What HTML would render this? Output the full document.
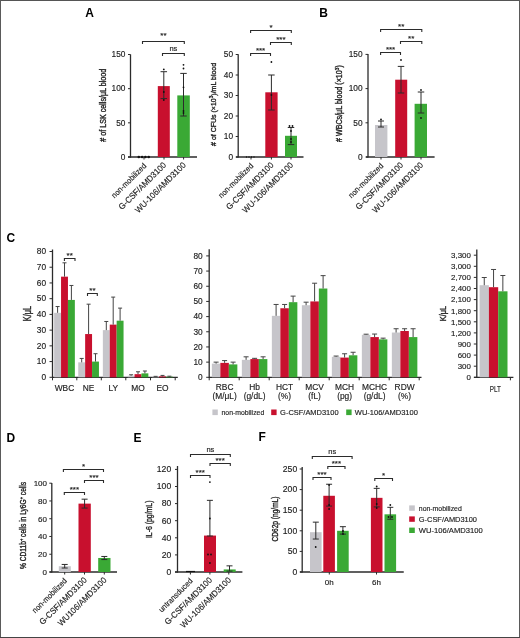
<!DOCTYPE html>
<html><head><meta charset="utf-8"><style>
html,body{margin:0;padding:0;background:#fff;}
body{width:520px;height:638px;overflow:hidden;}
svg{display:block;filter:blur(0.4px);font-family:"Liberation Sans", sans-serif;}
</style></head><body>
<svg width="520" height="638" viewBox="0 0 520 638">
<rect width="520" height="638" fill="#fff"/>
<rect x="0" y="0" width="520" height="1" fill="#555"/>
<rect x="0" y="0" width="1" height="638" fill="#5a5a5a"/>
<rect x="519" y="0" width="1" height="638" fill="#5a5a5a"/>
<rect x="0" y="637" width="520" height="1" fill="#444"/>
<text x="85.2" y="16.5" font-size="12" text-anchor="start" fill="#000" font-weight="bold">A</text>
<line x1="130.5" y1="54.4" x2="130.5" y2="157.6" stroke="#2b2b2b" stroke-width="1.3"/>
<line x1="128.0" y1="157.0" x2="130.5" y2="157.0" stroke="#2b2b2b" stroke-width="1"/>
<text x="125.4" y="159.8" font-size="8.3" text-anchor="end" fill="#222" stroke="#222" stroke-width="0.15">0</text>
<line x1="128.0" y1="122.83500000000001" x2="130.5" y2="122.83500000000001" stroke="#2b2b2b" stroke-width="1"/>
<text x="125.4" y="125.635" font-size="8.3" text-anchor="end" fill="#222" stroke="#222" stroke-width="0.15">50</text>
<line x1="128.0" y1="88.67" x2="130.5" y2="88.67" stroke="#2b2b2b" stroke-width="1"/>
<text x="125.4" y="91.47" font-size="8.3" text-anchor="end" fill="#222" stroke="#222" stroke-width="0.15">100</text>
<line x1="128.0" y1="54.504999999999995" x2="130.5" y2="54.504999999999995" stroke="#2b2b2b" stroke-width="1"/>
<text x="125.4" y="57.30499999999999" font-size="8.3" text-anchor="end" fill="#222" stroke="#222" stroke-width="0.15">150</text>
<line x1="128" y1="157" x2="197" y2="157" stroke="#2b2b2b" stroke-width="1.3"/>
<line x1="144" y1="157" x2="144" y2="159.5" stroke="#2b2b2b" stroke-width="1"/>
<line x1="164" y1="157" x2="164" y2="159.5" stroke="#2b2b2b" stroke-width="1"/>
<line x1="183.6" y1="157" x2="183.6" y2="159.5" stroke="#2b2b2b" stroke-width="1"/>
<rect x="157.8" y="86.1" width="12" height="70.9" fill="#c8102e"/>
<rect x="177.3" y="95.4" width="12.5" height="61.599999999999994" fill="#3aa935"/>
<line x1="163.8" y1="71.7" x2="163.8" y2="98.6" stroke="#2b2b2b" stroke-width="1"/>
<line x1="160.55" y1="71.7" x2="167.05" y2="71.7" stroke="#2b2b2b" stroke-width="1"/>
<line x1="160.55" y1="98.6" x2="167.05" y2="98.6" stroke="#2b2b2b" stroke-width="1"/>
<line x1="183.5" y1="73.4" x2="183.5" y2="116" stroke="#2b2b2b" stroke-width="1"/>
<line x1="180.25" y1="73.4" x2="186.75" y2="73.4" stroke="#2b2b2b" stroke-width="1"/>
<line x1="180.25" y1="116" x2="186.75" y2="116" stroke="#2b2b2b" stroke-width="1"/>
<circle cx="138.8" cy="157" r="1.3" fill="#111"/>
<circle cx="142.1" cy="157" r="1.3" fill="#111"/>
<circle cx="145.4" cy="157" r="1.3" fill="#111"/>
<circle cx="148.7" cy="157" r="1.3" fill="#111"/>
<circle cx="163.8" cy="69.4" r="0.9" fill="#111"/>
<circle cx="163.8" cy="92" r="0.9" fill="#111"/>
<circle cx="163.8" cy="100" r="0.9" fill="#111"/>
<circle cx="183.5" cy="64.8" r="0.9" fill="#111"/>
<circle cx="183.5" cy="68.5" r="0.9" fill="#111"/>
<circle cx="183.5" cy="87.3" r="0.9" fill="#111"/>
<circle cx="183.5" cy="111" r="0.9" fill="#111"/>
<circle cx="183.5" cy="113" r="0.9" fill="#111"/>
<polyline points="142.5,44.0 142.5,41.5 184.3,41.5 184.3,44.0" fill="none" stroke="#2b2b2b" stroke-width="1.1"/>
<text x="163.4" y="38.3" font-size="8" text-anchor="middle" fill="#222" stroke="#222" stroke-width="0.15">**</text>
<polyline points="162.5,56.0 162.5,53.5 184.3,53.5 184.3,56.0" fill="none" stroke="#2b2b2b" stroke-width="1.1"/>
<text x="173.4" y="50.8" font-size="7.5" text-anchor="middle" fill="#222" stroke="#222" stroke-width="0.15">ns</text>
<text x="106.3" y="105.2" font-size="8.2" text-anchor="middle" fill="#222" stroke="#222" stroke-width="0.35" textLength="73" lengthAdjust="spacingAndGlyphs" transform="rotate(-90 106.3 105.2)"># of LSK cells/μL blood</text>
<text x="146.8" y="166.4" font-size="7.9" text-anchor="end" fill="#222" stroke="#222" stroke-width="0.15" textLength="45.5" lengthAdjust="spacingAndGlyphs" transform="rotate(-45 146.8 166.4)">non-mobilized</text>
<text x="166.8" y="165.6" font-size="8.5" text-anchor="end" fill="#222" stroke="#222" stroke-width="0.15" textLength="63.2" lengthAdjust="spacingAndGlyphs" transform="rotate(-45 166.8 165.6)">G-CSF/AMD3100</text>
<text x="186.4" y="165.6" font-size="8.5" text-anchor="end" fill="#222" stroke="#222" stroke-width="0.15" textLength="67.8" lengthAdjust="spacingAndGlyphs" transform="rotate(-45 186.4 165.6)">WU-106/AMD3100</text>
<line x1="238.2" y1="54.3" x2="238.2" y2="157.6" stroke="#2b2b2b" stroke-width="1.3"/>
<line x1="235.7" y1="157.0" x2="238.2" y2="157.0" stroke="#2b2b2b" stroke-width="1"/>
<text x="233" y="159.8" font-size="8.3" text-anchor="end" fill="#222" stroke="#222" stroke-width="0.15">0</text>
<line x1="235.7" y1="136.5" x2="238.2" y2="136.5" stroke="#2b2b2b" stroke-width="1"/>
<text x="233" y="139.3" font-size="8.3" text-anchor="end" fill="#222" stroke="#222" stroke-width="0.15">10</text>
<line x1="235.7" y1="116.0" x2="238.2" y2="116.0" stroke="#2b2b2b" stroke-width="1"/>
<text x="233" y="118.8" font-size="8.3" text-anchor="end" fill="#222" stroke="#222" stroke-width="0.15">20</text>
<line x1="235.7" y1="95.5" x2="238.2" y2="95.5" stroke="#2b2b2b" stroke-width="1"/>
<text x="233" y="98.3" font-size="8.3" text-anchor="end" fill="#222" stroke="#222" stroke-width="0.15">30</text>
<line x1="235.7" y1="75.0" x2="238.2" y2="75.0" stroke="#2b2b2b" stroke-width="1"/>
<text x="233" y="77.8" font-size="8.3" text-anchor="end" fill="#222" stroke="#222" stroke-width="0.15">40</text>
<line x1="235.7" y1="54.500000000000014" x2="238.2" y2="54.500000000000014" stroke="#2b2b2b" stroke-width="1"/>
<text x="233" y="57.30000000000001" font-size="8.3" text-anchor="end" fill="#222" stroke="#222" stroke-width="0.15">50</text>
<line x1="236" y1="157" x2="303.5" y2="157" stroke="#2b2b2b" stroke-width="1.3"/>
<line x1="251" y1="157" x2="251" y2="159.5" stroke="#2b2b2b" stroke-width="1"/>
<line x1="271.4" y1="157" x2="271.4" y2="159.5" stroke="#2b2b2b" stroke-width="1"/>
<line x1="291" y1="157" x2="291" y2="159.5" stroke="#2b2b2b" stroke-width="1"/>
<rect x="265.3" y="92.3" width="12.3" height="64.7" fill="#c8102e"/>
<rect x="285" y="135.8" width="12" height="21.19999999999999" fill="#3aa935"/>
<line x1="271.4" y1="75" x2="271.4" y2="110" stroke="#2b2b2b" stroke-width="1"/>
<line x1="268.15" y1="75" x2="274.65" y2="75" stroke="#2b2b2b" stroke-width="1"/>
<line x1="268.15" y1="110" x2="274.65" y2="110" stroke="#2b2b2b" stroke-width="1"/>
<line x1="291" y1="127.5" x2="291" y2="144.6" stroke="#2b2b2b" stroke-width="1"/>
<line x1="287.75" y1="127.5" x2="294.25" y2="127.5" stroke="#2b2b2b" stroke-width="1"/>
<line x1="287.75" y1="144.6" x2="294.25" y2="144.6" stroke="#2b2b2b" stroke-width="1"/>
<circle cx="271.4" cy="62" r="0.9" fill="#111"/>
<circle cx="271.4" cy="95" r="0.9" fill="#111"/>
<circle cx="246.5" cy="157" r="0.7" fill="#111"/>
<circle cx="249" cy="157" r="0.7" fill="#111"/>
<circle cx="251.5" cy="157" r="0.7" fill="#111"/>
<circle cx="254" cy="157" r="0.7" fill="#111"/>
<circle cx="289.5" cy="126" r="0.9" fill="#111"/>
<circle cx="292.5" cy="126" r="0.9" fill="#111"/>
<circle cx="291" cy="131" r="0.9" fill="#111"/>
<circle cx="291" cy="139" r="0.9" fill="#111"/>
<circle cx="291" cy="142" r="0.9" fill="#111"/>
<polyline points="250.6,33.0 250.6,30.5 291.3,30.5 291.3,33.0" fill="none" stroke="#2b2b2b" stroke-width="1.1"/>
<text x="270.95" y="29.8" font-size="8" text-anchor="middle" fill="#222" stroke="#222" stroke-width="0.15">*</text>
<polyline points="270.5,45.0 270.5,42.5 291.3,42.5 291.3,45.0" fill="none" stroke="#2b2b2b" stroke-width="1.1"/>
<text x="280.9" y="41.8" font-size="8" text-anchor="middle" fill="#222" stroke="#222" stroke-width="0.15">***</text>
<polyline points="250.6,56.0 250.6,53.5 270.5,53.5 270.5,56.0" fill="none" stroke="#2b2b2b" stroke-width="1.1"/>
<text x="260.55" y="52.8" font-size="8" text-anchor="middle" fill="#222" stroke="#222" stroke-width="0.15">***</text>
<text x="216.3" y="104.4" font-size="8" text-anchor="middle" fill="#222" stroke="#222" stroke-width="0.35" textLength="83" lengthAdjust="spacingAndGlyphs" transform="rotate(-90 216.3 104.4)"># of CFUs (×10<tspan font-size="5.5" dy="-3">3</tspan><tspan dy="3">)/mL blood</tspan></text>
<text x="253.8" y="166.4" font-size="7.9" text-anchor="end" fill="#222" stroke="#222" stroke-width="0.15" textLength="45.5" lengthAdjust="spacingAndGlyphs" transform="rotate(-45 253.8 166.4)">non-mobilized</text>
<text x="274.2" y="165.6" font-size="8.5" text-anchor="end" fill="#222" stroke="#222" stroke-width="0.15" textLength="63.2" lengthAdjust="spacingAndGlyphs" transform="rotate(-45 274.2 165.6)">G-CSF/AMD3100</text>
<text x="293.8" y="165.6" font-size="8.5" text-anchor="end" fill="#222" stroke="#222" stroke-width="0.15" textLength="67.8" lengthAdjust="spacingAndGlyphs" transform="rotate(-45 293.8 165.6)">WU-106/AMD3100</text>
<text x="319.3" y="16.7" font-size="12" text-anchor="start" fill="#000" font-weight="bold">B</text>
<line x1="368" y1="54.1" x2="368" y2="157.6" stroke="#2b2b2b" stroke-width="1.3"/>
<line x1="365.5" y1="157.0" x2="368" y2="157.0" stroke="#2b2b2b" stroke-width="1"/>
<text x="362.6" y="159.8" font-size="8.3" text-anchor="end" fill="#222" stroke="#222" stroke-width="0.15">0</text>
<line x1="365.5" y1="122.8" x2="368" y2="122.8" stroke="#2b2b2b" stroke-width="1"/>
<text x="362.6" y="125.6" font-size="8.3" text-anchor="end" fill="#222" stroke="#222" stroke-width="0.15">50</text>
<line x1="365.5" y1="88.6" x2="368" y2="88.6" stroke="#2b2b2b" stroke-width="1"/>
<text x="362.6" y="91.39999999999999" font-size="8.3" text-anchor="end" fill="#222" stroke="#222" stroke-width="0.15">100</text>
<line x1="365.5" y1="54.39999999999999" x2="368" y2="54.39999999999999" stroke="#2b2b2b" stroke-width="1"/>
<text x="362.6" y="57.19999999999999" font-size="8.3" text-anchor="end" fill="#222" stroke="#222" stroke-width="0.15">150</text>
<line x1="366" y1="157" x2="434.6" y2="157" stroke="#2b2b2b" stroke-width="1.3"/>
<line x1="381" y1="157" x2="381" y2="159.5" stroke="#2b2b2b" stroke-width="1"/>
<line x1="401" y1="157" x2="401" y2="159.5" stroke="#2b2b2b" stroke-width="1"/>
<line x1="421" y1="157" x2="421" y2="159.5" stroke="#2b2b2b" stroke-width="1"/>
<rect x="375" y="125" width="12.4" height="32" fill="#c6c5ca"/>
<rect x="395.2" y="79.7" width="12" height="77.3" fill="#c8102e"/>
<rect x="414.6" y="103.8" width="12.4" height="53.2" fill="#3aa935"/>
<line x1="381" y1="121" x2="381" y2="127" stroke="#2b2b2b" stroke-width="1"/>
<line x1="378.0" y1="121" x2="384.0" y2="121" stroke="#2b2b2b" stroke-width="1"/>
<line x1="378.0" y1="127" x2="384.0" y2="127" stroke="#2b2b2b" stroke-width="1"/>
<line x1="401" y1="66.4" x2="401" y2="93" stroke="#2b2b2b" stroke-width="1"/>
<line x1="397.75" y1="66.4" x2="404.25" y2="66.4" stroke="#2b2b2b" stroke-width="1"/>
<line x1="397.75" y1="93" x2="404.25" y2="93" stroke="#2b2b2b" stroke-width="1"/>
<line x1="421" y1="92" x2="421" y2="113" stroke="#2b2b2b" stroke-width="1"/>
<line x1="417.75" y1="92" x2="424.25" y2="92" stroke="#2b2b2b" stroke-width="1"/>
<line x1="417.75" y1="113" x2="424.25" y2="113" stroke="#2b2b2b" stroke-width="1"/>
<circle cx="381" cy="119.5" r="0.9" fill="#111"/>
<circle cx="401" cy="60" r="0.9" fill="#111"/>
<circle cx="421" cy="90" r="0.9" fill="#111"/>
<circle cx="421" cy="118" r="0.9" fill="#111"/>
<polyline points="380.6,32.0 380.6,29.5 421.8,29.5 421.8,32.0" fill="none" stroke="#2b2b2b" stroke-width="1.1"/>
<text x="401.20000000000005" y="28.8" font-size="8" text-anchor="middle" fill="#222" stroke="#222" stroke-width="0.15">**</text>
<polyline points="400.5,44.0 400.5,41.5 421.8,41.5 421.8,44.0" fill="none" stroke="#2b2b2b" stroke-width="1.1"/>
<text x="411.15" y="40.8" font-size="8" text-anchor="middle" fill="#222" stroke="#222" stroke-width="0.15">**</text>
<polyline points="380.6,55.0 380.6,52.5 400.5,52.5 400.5,55.0" fill="none" stroke="#2b2b2b" stroke-width="1.1"/>
<text x="390.55" y="51.8" font-size="8" text-anchor="middle" fill="#222" stroke="#222" stroke-width="0.15">***</text>
<text x="342.2" y="103.6" font-size="8.3" text-anchor="middle" fill="#222" stroke="#222" stroke-width="0.35" textLength="76.8" lengthAdjust="spacingAndGlyphs" transform="rotate(-90 342.2 103.6)"># WBCs/μL blood (×10<tspan font-size="5.5" dy="-3">3</tspan><tspan dy="3">)</tspan></text>
<text x="383.8" y="166.4" font-size="7.9" text-anchor="end" fill="#222" stroke="#222" stroke-width="0.15" textLength="45.5" lengthAdjust="spacingAndGlyphs" transform="rotate(-45 383.8 166.4)">non-mobilized</text>
<text x="403.8" y="165.6" font-size="8.5" text-anchor="end" fill="#222" stroke="#222" stroke-width="0.15" textLength="63.2" lengthAdjust="spacingAndGlyphs" transform="rotate(-45 403.8 165.6)">G-CSF/AMD3100</text>
<text x="423.8" y="165.6" font-size="8.5" text-anchor="end" fill="#222" stroke="#222" stroke-width="0.15" textLength="67.8" lengthAdjust="spacingAndGlyphs" transform="rotate(-45 423.8 165.6)">WU-106/AMD3100</text>
<text x="6.4" y="241.8" font-size="12" text-anchor="start" fill="#000" font-weight="bold">C</text>
<line x1="52.5" y1="249.5" x2="52.5" y2="377.90000000000003" stroke="#2b2b2b" stroke-width="1.3"/>
<line x1="49.5" y1="377.3" x2="52.5" y2="377.3" stroke="#2b2b2b" stroke-width="1"/>
<text x="46" y="380.1" font-size="8.3" text-anchor="end" fill="#222" stroke="#222" stroke-width="0.15">0</text>
<line x1="49.5" y1="361.575" x2="52.5" y2="361.575" stroke="#2b2b2b" stroke-width="1"/>
<text x="46" y="364.375" font-size="8.3" text-anchor="end" fill="#222" stroke="#222" stroke-width="0.15">10</text>
<line x1="49.5" y1="345.85" x2="52.5" y2="345.85" stroke="#2b2b2b" stroke-width="1"/>
<text x="46" y="348.65000000000003" font-size="8.3" text-anchor="end" fill="#222" stroke="#222" stroke-width="0.15">20</text>
<line x1="49.5" y1="330.125" x2="52.5" y2="330.125" stroke="#2b2b2b" stroke-width="1"/>
<text x="46" y="332.925" font-size="8.3" text-anchor="end" fill="#222" stroke="#222" stroke-width="0.15">30</text>
<line x1="49.5" y1="314.40000000000003" x2="52.5" y2="314.40000000000003" stroke="#2b2b2b" stroke-width="1"/>
<text x="46" y="317.20000000000005" font-size="8.3" text-anchor="end" fill="#222" stroke="#222" stroke-width="0.15">40</text>
<line x1="49.5" y1="298.675" x2="52.5" y2="298.675" stroke="#2b2b2b" stroke-width="1"/>
<text x="46" y="301.475" font-size="8.3" text-anchor="end" fill="#222" stroke="#222" stroke-width="0.15">50</text>
<line x1="49.5" y1="282.95000000000005" x2="52.5" y2="282.95000000000005" stroke="#2b2b2b" stroke-width="1"/>
<text x="46" y="285.75000000000006" font-size="8.3" text-anchor="end" fill="#222" stroke="#222" stroke-width="0.15">60</text>
<line x1="49.5" y1="267.225" x2="52.5" y2="267.225" stroke="#2b2b2b" stroke-width="1"/>
<text x="46" y="270.02500000000003" font-size="8.3" text-anchor="end" fill="#222" stroke="#222" stroke-width="0.15">70</text>
<line x1="49.5" y1="251.5" x2="52.5" y2="251.5" stroke="#2b2b2b" stroke-width="1"/>
<text x="46" y="254.3" font-size="8.3" text-anchor="end" fill="#222" stroke="#222" stroke-width="0.15">80</text>
<line x1="52.5" y1="377.3" x2="177.8" y2="377.3" stroke="#2b2b2b" stroke-width="1.3"/>
<line x1="52.5" y1="377.3" x2="52.5" y2="380.3" stroke="#2b2b2b" stroke-width="1"/>
<line x1="76.8" y1="377.3" x2="76.8" y2="380.3" stroke="#2b2b2b" stroke-width="1"/>
<line x1="101.3" y1="377.3" x2="101.3" y2="380.3" stroke="#2b2b2b" stroke-width="1"/>
<line x1="125.8" y1="377.3" x2="125.8" y2="380.3" stroke="#2b2b2b" stroke-width="1"/>
<line x1="150.5" y1="377.3" x2="150.5" y2="380.3" stroke="#2b2b2b" stroke-width="1"/>
<line x1="175.2" y1="377.3" x2="175.2" y2="380.3" stroke="#2b2b2b" stroke-width="1"/>
<rect x="54.15" y="312.8275" width="6.9" height="64.4725" fill="#c6c5ca"/>
<rect x="61.05" y="276.66" width="6.9" height="100.64" fill="#c8102e"/>
<rect x="67.95" y="299.933" width="6.9" height="77.367" fill="#3aa935"/>
<line x1="57.6" y1="312.8275" x2="57.6" y2="306.5375" stroke="#444" stroke-width="1"/>
<line x1="55.6" y1="306.5375" x2="59.6" y2="306.5375" stroke="#444" stroke-width="1"/>
<line x1="64.5" y1="276.66" x2="64.5" y2="262.822" stroke="#444" stroke-width="1"/>
<line x1="62.5" y1="262.822" x2="66.5" y2="262.822" stroke="#444" stroke-width="1"/>
<line x1="71.4" y1="299.933" x2="71.4" y2="285.466" stroke="#444" stroke-width="1"/>
<line x1="69.4" y1="285.466" x2="73.4" y2="285.466" stroke="#444" stroke-width="1"/>
<text x="64.5" y="390.7" font-size="8.4" text-anchor="middle" fill="#222" stroke="#222" stroke-width="0.15">WBC</text>
<rect x="78.25" y="362.36125" width="6.9" height="14.93875" fill="#c6c5ca"/>
<rect x="85.15" y="334.05625000000003" width="6.9" height="43.24375" fill="#c8102e"/>
<rect x="92.05" y="361.575" width="6.9" height="15.725" fill="#3aa935"/>
<line x1="81.7" y1="362.36125" x2="81.7" y2="358.43" stroke="#444" stroke-width="1"/>
<line x1="79.7" y1="358.43" x2="83.7" y2="358.43" stroke="#444" stroke-width="1"/>
<line x1="88.60000000000001" y1="334.05625000000003" x2="88.60000000000001" y2="304.17875000000004" stroke="#444" stroke-width="1"/>
<line x1="86.60000000000001" y1="304.17875000000004" x2="90.60000000000001" y2="304.17875000000004" stroke="#444" stroke-width="1"/>
<line x1="95.5" y1="361.575" x2="95.5" y2="353.71250000000003" stroke="#444" stroke-width="1"/>
<line x1="93.5" y1="353.71250000000003" x2="97.5" y2="353.71250000000003" stroke="#444" stroke-width="1"/>
<text x="88.6" y="390.7" font-size="8.4" text-anchor="middle" fill="#222" stroke="#222" stroke-width="0.15">NE</text>
<rect x="102.85" y="330.125" width="6.9" height="47.175" fill="#c6c5ca"/>
<rect x="109.75" y="324.62125000000003" width="6.9" height="52.67875" fill="#c8102e"/>
<rect x="116.64999999999999" y="320.69" width="6.9" height="56.61" fill="#3aa935"/>
<line x1="106.3" y1="330.125" x2="106.3" y2="321.47625" stroke="#444" stroke-width="1"/>
<line x1="104.3" y1="321.47625" x2="108.3" y2="321.47625" stroke="#444" stroke-width="1"/>
<line x1="113.2" y1="324.62125000000003" x2="113.2" y2="297.1025" stroke="#444" stroke-width="1"/>
<line x1="111.2" y1="297.1025" x2="115.2" y2="297.1025" stroke="#444" stroke-width="1"/>
<line x1="120.1" y1="320.69" x2="120.1" y2="308.11" stroke="#444" stroke-width="1"/>
<line x1="118.1" y1="308.11" x2="122.1" y2="308.11" stroke="#444" stroke-width="1"/>
<text x="113.2" y="390.7" font-size="8.4" text-anchor="middle" fill="#222" stroke="#222" stroke-width="0.15">LY</text>
<rect x="127.65" y="375.7275" width="6.9" height="1.5725" fill="#c6c5ca"/>
<rect x="134.55" y="374.15500000000003" width="6.9" height="3.145" fill="#c8102e"/>
<rect x="141.45000000000002" y="373.36875000000003" width="6.9" height="3.93125" fill="#3aa935"/>
<line x1="131.1" y1="375.7275" x2="131.1" y2="374.784" stroke="#444" stroke-width="1"/>
<line x1="129.1" y1="374.784" x2="133.1" y2="374.784" stroke="#444" stroke-width="1"/>
<line x1="138.0" y1="374.15500000000003" x2="138.0" y2="371.79625" stroke="#444" stroke-width="1"/>
<line x1="136.0" y1="371.79625" x2="140.0" y2="371.79625" stroke="#444" stroke-width="1"/>
<line x1="144.9" y1="373.36875000000003" x2="144.9" y2="371.01" stroke="#444" stroke-width="1"/>
<line x1="142.9" y1="371.01" x2="146.9" y2="371.01" stroke="#444" stroke-width="1"/>
<text x="138" y="390.7" font-size="8.4" text-anchor="middle" fill="#222" stroke="#222" stroke-width="0.15">MO</text>
<rect x="152.15" y="376.671" width="6.9" height="0.629" fill="#c6c5ca"/>
<rect x="159.05" y="376.35650000000004" width="6.9" height="0.9435" fill="#c8102e"/>
<rect x="165.95000000000002" y="376.671" width="6.9" height="0.629" fill="#3aa935"/>
<line x1="155.6" y1="376.671" x2="155.6" y2="376.35650000000004" stroke="#444" stroke-width="1"/>
<line x1="153.6" y1="376.35650000000004" x2="157.6" y2="376.35650000000004" stroke="#444" stroke-width="1"/>
<line x1="162.5" y1="376.35650000000004" x2="162.5" y2="375.413" stroke="#444" stroke-width="1"/>
<line x1="160.5" y1="375.413" x2="164.5" y2="375.413" stroke="#444" stroke-width="1"/>
<line x1="169.4" y1="376.671" x2="169.4" y2="376.19925" stroke="#444" stroke-width="1"/>
<line x1="167.4" y1="376.19925" x2="171.4" y2="376.19925" stroke="#444" stroke-width="1"/>
<text x="162.5" y="390.7" font-size="8.4" text-anchor="middle" fill="#222" stroke="#222" stroke-width="0.15">EO</text>
<polyline points="64.4,261.0 64.4,258.5 75,258.5 75,261.0" fill="none" stroke="#2b2b2b" stroke-width="1.1"/>
<text x="69.7" y="257.8" font-size="8" text-anchor="middle" fill="#222" stroke="#222" stroke-width="0.15">**</text>
<polyline points="87.5,296.0 87.5,293.5 97.3,293.5 97.3,296.0" fill="none" stroke="#2b2b2b" stroke-width="1.1"/>
<text x="92.4" y="292.8" font-size="8" text-anchor="middle" fill="#222" stroke="#222" stroke-width="0.15">**</text>
<text x="31.3" y="313.5" font-size="10" text-anchor="middle" fill="#222" stroke="#222" stroke-width="0.35" textLength="15.3" lengthAdjust="spacingAndGlyphs" transform="rotate(-90 31.3 313.5)">K/μL</text>
<line x1="209.2" y1="249.2" x2="209.2" y2="377.90000000000003" stroke="#2b2b2b" stroke-width="1.3"/>
<line x1="206.2" y1="377.3" x2="209.2" y2="377.3" stroke="#2b2b2b" stroke-width="1"/>
<text x="202.7" y="380.1" font-size="8.3" text-anchor="end" fill="#222" stroke="#222" stroke-width="0.15">0</text>
<line x1="206.2" y1="362.125" x2="209.2" y2="362.125" stroke="#2b2b2b" stroke-width="1"/>
<text x="202.7" y="364.925" font-size="8.3" text-anchor="end" fill="#222" stroke="#222" stroke-width="0.15">10</text>
<line x1="206.2" y1="346.95" x2="209.2" y2="346.95" stroke="#2b2b2b" stroke-width="1"/>
<text x="202.7" y="349.75" font-size="8.3" text-anchor="end" fill="#222" stroke="#222" stroke-width="0.15">20</text>
<line x1="206.2" y1="331.775" x2="209.2" y2="331.775" stroke="#2b2b2b" stroke-width="1"/>
<text x="202.7" y="334.575" font-size="8.3" text-anchor="end" fill="#222" stroke="#222" stroke-width="0.15">30</text>
<line x1="206.2" y1="316.6" x2="209.2" y2="316.6" stroke="#2b2b2b" stroke-width="1"/>
<text x="202.7" y="319.40000000000003" font-size="8.3" text-anchor="end" fill="#222" stroke="#222" stroke-width="0.15">40</text>
<line x1="206.2" y1="301.425" x2="209.2" y2="301.425" stroke="#2b2b2b" stroke-width="1"/>
<text x="202.7" y="304.225" font-size="8.3" text-anchor="end" fill="#222" stroke="#222" stroke-width="0.15">50</text>
<line x1="206.2" y1="286.25" x2="209.2" y2="286.25" stroke="#2b2b2b" stroke-width="1"/>
<text x="202.7" y="289.05" font-size="8.3" text-anchor="end" fill="#222" stroke="#222" stroke-width="0.15">60</text>
<line x1="206.2" y1="271.075" x2="209.2" y2="271.075" stroke="#2b2b2b" stroke-width="1"/>
<text x="202.7" y="273.875" font-size="8.3" text-anchor="end" fill="#222" stroke="#222" stroke-width="0.15">70</text>
<line x1="206.2" y1="255.9" x2="209.2" y2="255.9" stroke="#2b2b2b" stroke-width="1"/>
<text x="202.7" y="258.7" font-size="8.3" text-anchor="end" fill="#222" stroke="#222" stroke-width="0.15">80</text>
<line x1="209.2" y1="377.3" x2="421.5" y2="377.3" stroke="#2b2b2b" stroke-width="1.3"/>
<line x1="209.2" y1="377.3" x2="209.2" y2="380.3" stroke="#2b2b2b" stroke-width="1"/>
<line x1="239.2" y1="377.3" x2="239.2" y2="380.3" stroke="#2b2b2b" stroke-width="1"/>
<line x1="269.2" y1="377.3" x2="269.2" y2="380.3" stroke="#2b2b2b" stroke-width="1"/>
<line x1="299.2" y1="377.3" x2="299.2" y2="380.3" stroke="#2b2b2b" stroke-width="1"/>
<line x1="329.2" y1="377.3" x2="329.2" y2="380.3" stroke="#2b2b2b" stroke-width="1"/>
<line x1="359.2" y1="377.3" x2="359.2" y2="380.3" stroke="#2b2b2b" stroke-width="1"/>
<line x1="389.2" y1="377.3" x2="389.2" y2="380.3" stroke="#2b2b2b" stroke-width="1"/>
<line x1="419.2" y1="377.3" x2="419.2" y2="380.3" stroke="#2b2b2b" stroke-width="1"/>
<rect x="211.85" y="363.6425" width="8.5" height="13.6575" fill="#c6c5ca"/>
<rect x="220.35" y="362.88375" width="8.5" height="14.416250000000002" fill="#c8102e"/>
<rect x="228.85" y="364.40125" width="8.5" height="12.89875" fill="#3aa935"/>
<line x1="216.1" y1="363.6425" x2="216.1" y2="362.125" stroke="#444" stroke-width="1"/>
<line x1="213.6" y1="362.125" x2="218.6" y2="362.125" stroke="#444" stroke-width="1"/>
<line x1="224.6" y1="362.88375" x2="224.6" y2="360.6075" stroke="#444" stroke-width="1"/>
<line x1="222.1" y1="360.6075" x2="227.1" y2="360.6075" stroke="#444" stroke-width="1"/>
<line x1="233.1" y1="364.40125" x2="233.1" y2="362.125" stroke="#444" stroke-width="1"/>
<line x1="230.6" y1="362.125" x2="235.6" y2="362.125" stroke="#444" stroke-width="1"/>
<text x="224.6" y="390.4" font-size="8.4" text-anchor="middle" fill="#222" stroke="#222" stroke-width="0.15">RBC</text>
<text x="224.6" y="399.4" font-size="8.4" text-anchor="middle" fill="#222" stroke="#222" stroke-width="0.15">(M/μL)</text>
<rect x="241.85" y="359.84875" width="8.5" height="17.45125" fill="#c6c5ca"/>
<rect x="250.35" y="359.09000000000003" width="8.5" height="18.21" fill="#c8102e"/>
<rect x="258.85" y="359.09000000000003" width="8.5" height="18.21" fill="#3aa935"/>
<line x1="246.1" y1="359.84875" x2="246.1" y2="356.81375" stroke="#444" stroke-width="1"/>
<line x1="243.6" y1="356.81375" x2="248.6" y2="356.81375" stroke="#444" stroke-width="1"/>
<line x1="254.6" y1="359.09000000000003" x2="254.6" y2="358.33125" stroke="#444" stroke-width="1"/>
<line x1="252.1" y1="358.33125" x2="257.1" y2="358.33125" stroke="#444" stroke-width="1"/>
<line x1="263.1" y1="359.09000000000003" x2="263.1" y2="356.81375" stroke="#444" stroke-width="1"/>
<line x1="260.6" y1="356.81375" x2="265.6" y2="356.81375" stroke="#444" stroke-width="1"/>
<text x="254.6" y="390.4" font-size="8.4" text-anchor="middle" fill="#222" stroke="#222" stroke-width="0.15">Hb</text>
<text x="254.6" y="399.4" font-size="8.4" text-anchor="middle" fill="#222" stroke="#222" stroke-width="0.15">(g/dL)</text>
<rect x="271.85" y="315.84125" width="8.5" height="61.45875" fill="#c6c5ca"/>
<rect x="280.35" y="308.25375" width="8.5" height="69.04625" fill="#c8102e"/>
<rect x="288.85" y="302.18375000000003" width="8.5" height="75.11625000000001" fill="#3aa935"/>
<line x1="276.1" y1="315.84125" x2="276.1" y2="304.46000000000004" stroke="#444" stroke-width="1"/>
<line x1="273.6" y1="304.46000000000004" x2="278.6" y2="304.46000000000004" stroke="#444" stroke-width="1"/>
<line x1="284.6" y1="308.25375" x2="284.6" y2="304.46000000000004" stroke="#444" stroke-width="1"/>
<line x1="282.1" y1="304.46000000000004" x2="287.1" y2="304.46000000000004" stroke="#444" stroke-width="1"/>
<line x1="293.1" y1="302.18375000000003" x2="293.1" y2="296.11375" stroke="#444" stroke-width="1"/>
<line x1="290.6" y1="296.11375" x2="295.6" y2="296.11375" stroke="#444" stroke-width="1"/>
<text x="284.6" y="390.4" font-size="8.4" text-anchor="middle" fill="#222" stroke="#222" stroke-width="0.15">HCT</text>
<text x="284.6" y="399.4" font-size="8.4" text-anchor="middle" fill="#222" stroke="#222" stroke-width="0.15">(%)</text>
<rect x="301.85" y="305.21875" width="8.5" height="72.08125" fill="#c6c5ca"/>
<rect x="310.35" y="301.425" width="8.5" height="75.875" fill="#c8102e"/>
<rect x="318.85" y="288.52625" width="8.5" height="88.77375" fill="#3aa935"/>
<line x1="306.1" y1="305.21875" x2="306.1" y2="302.18375000000003" stroke="#444" stroke-width="1"/>
<line x1="303.6" y1="302.18375000000003" x2="308.6" y2="302.18375000000003" stroke="#444" stroke-width="1"/>
<line x1="314.6" y1="301.425" x2="314.6" y2="283.21500000000003" stroke="#444" stroke-width="1"/>
<line x1="312.1" y1="283.21500000000003" x2="317.1" y2="283.21500000000003" stroke="#444" stroke-width="1"/>
<line x1="323.1" y1="288.52625" x2="323.1" y2="275.6275" stroke="#444" stroke-width="1"/>
<line x1="320.6" y1="275.6275" x2="325.6" y2="275.6275" stroke="#444" stroke-width="1"/>
<text x="314.6" y="390.4" font-size="8.4" text-anchor="middle" fill="#222" stroke="#222" stroke-width="0.15">MCV</text>
<text x="314.6" y="399.4" font-size="8.4" text-anchor="middle" fill="#222" stroke="#222" stroke-width="0.15">(fL)</text>
<rect x="331.85" y="356.81375" width="8.5" height="20.486250000000002" fill="#c6c5ca"/>
<rect x="340.35" y="357.5725" width="8.5" height="19.7275" fill="#c8102e"/>
<rect x="348.85" y="355.29625" width="8.5" height="22.00375" fill="#3aa935"/>
<line x1="336.1" y1="356.81375" x2="336.1" y2="356.055" stroke="#444" stroke-width="1"/>
<line x1="333.6" y1="356.055" x2="338.6" y2="356.055" stroke="#444" stroke-width="1"/>
<line x1="344.6" y1="357.5725" x2="344.6" y2="353.77875" stroke="#444" stroke-width="1"/>
<line x1="342.1" y1="353.77875" x2="347.1" y2="353.77875" stroke="#444" stroke-width="1"/>
<line x1="353.1" y1="355.29625" x2="353.1" y2="352.26125" stroke="#444" stroke-width="1"/>
<line x1="350.6" y1="352.26125" x2="355.6" y2="352.26125" stroke="#444" stroke-width="1"/>
<text x="344.6" y="390.4" font-size="8.4" text-anchor="middle" fill="#222" stroke="#222" stroke-width="0.15">MCH</text>
<text x="344.6" y="399.4" font-size="8.4" text-anchor="middle" fill="#222" stroke="#222" stroke-width="0.15">(pg)</text>
<rect x="361.85" y="334.81" width="8.5" height="42.49" fill="#c6c5ca"/>
<rect x="370.35" y="337.08625" width="8.5" height="40.213750000000005" fill="#c8102e"/>
<rect x="378.85" y="339.3625" width="8.5" height="37.9375" fill="#3aa935"/>
<line x1="366.1" y1="334.81" x2="366.1" y2="334.20300000000003" stroke="#444" stroke-width="1"/>
<line x1="363.6" y1="334.20300000000003" x2="368.6" y2="334.20300000000003" stroke="#444" stroke-width="1"/>
<line x1="374.6" y1="337.08625" x2="374.6" y2="334.05125" stroke="#444" stroke-width="1"/>
<line x1="372.1" y1="334.05125" x2="377.1" y2="334.05125" stroke="#444" stroke-width="1"/>
<line x1="383.1" y1="339.3625" x2="383.1" y2="338.1485" stroke="#444" stroke-width="1"/>
<line x1="380.6" y1="338.1485" x2="385.6" y2="338.1485" stroke="#444" stroke-width="1"/>
<text x="374.6" y="390.4" font-size="8.4" text-anchor="middle" fill="#222" stroke="#222" stroke-width="0.15">MCHC</text>
<text x="374.6" y="399.4" font-size="8.4" text-anchor="middle" fill="#222" stroke="#222" stroke-width="0.15">(g/dL)</text>
<rect x="391.85" y="332.53375" width="8.5" height="44.76625" fill="#c6c5ca"/>
<rect x="400.35" y="331.01625" width="8.5" height="46.283750000000005" fill="#c8102e"/>
<rect x="408.85" y="337.08625" width="8.5" height="40.213750000000005" fill="#3aa935"/>
<line x1="396.1" y1="332.53375" x2="396.1" y2="328.74" stroke="#444" stroke-width="1"/>
<line x1="393.6" y1="328.74" x2="398.6" y2="328.74" stroke="#444" stroke-width="1"/>
<line x1="404.6" y1="331.01625" x2="404.6" y2="328.74" stroke="#444" stroke-width="1"/>
<line x1="402.1" y1="328.74" x2="407.1" y2="328.74" stroke="#444" stroke-width="1"/>
<line x1="413.1" y1="337.08625" x2="413.1" y2="328.74" stroke="#444" stroke-width="1"/>
<line x1="410.6" y1="328.74" x2="415.6" y2="328.74" stroke="#444" stroke-width="1"/>
<text x="404.6" y="390.4" font-size="8.4" text-anchor="middle" fill="#222" stroke="#222" stroke-width="0.15">RDW</text>
<text x="404.6" y="399.4" font-size="8.4" text-anchor="middle" fill="#222" stroke="#222" stroke-width="0.15">(%)</text>
<rect x="212.4" y="409.5" width="5.4" height="5.6" fill="#c6c5ca"/>
<text x="221.5" y="414.8" font-size="7.5" text-anchor="start" fill="#222" stroke="#222" stroke-width="0.15" textLength="42.7" lengthAdjust="spacingAndGlyphs">non-mobilized</text>
<rect x="271.2" y="409.5" width="5.4" height="5.6" fill="#c8102e"/>
<text x="280.1" y="414.8" font-size="7.5" text-anchor="start" fill="#222" stroke="#222" stroke-width="0.15" textLength="58.5" lengthAdjust="spacingAndGlyphs">G-CSF/AMD3100</text>
<rect x="346.2" y="409.5" width="5.4" height="5.6" fill="#3aa935"/>
<text x="354.8" y="414.8" font-size="7.5" text-anchor="start" fill="#222" stroke="#222" stroke-width="0.15" textLength="63.1" lengthAdjust="spacingAndGlyphs">WU-106/AMD3100</text>
<line x1="476.8" y1="249.5" x2="476.8" y2="377.90000000000003" stroke="#2b2b2b" stroke-width="1.3"/>
<line x1="473.8" y1="377.3" x2="476.8" y2="377.3" stroke="#2b2b2b" stroke-width="1"/>
<text x="470.8" y="380.1" font-size="7.9" text-anchor="end" fill="#222" stroke="#222" stroke-width="0.15">0</text>
<line x1="473.8" y1="366.2" x2="476.8" y2="366.2" stroke="#2b2b2b" stroke-width="1"/>
<text x="470.8" y="369.0" font-size="7.9" text-anchor="end" fill="#222" stroke="#222" stroke-width="0.15">300</text>
<line x1="473.8" y1="355.1" x2="476.8" y2="355.1" stroke="#2b2b2b" stroke-width="1"/>
<text x="470.8" y="357.90000000000003" font-size="7.9" text-anchor="end" fill="#222" stroke="#222" stroke-width="0.15">600</text>
<line x1="473.8" y1="344.0" x2="476.8" y2="344.0" stroke="#2b2b2b" stroke-width="1"/>
<text x="470.8" y="346.8" font-size="7.9" text-anchor="end" fill="#222" stroke="#222" stroke-width="0.15">900</text>
<line x1="473.8" y1="332.90000000000003" x2="476.8" y2="332.90000000000003" stroke="#2b2b2b" stroke-width="1"/>
<text x="470.8" y="335.70000000000005" font-size="7.9" text-anchor="end" fill="#222" stroke="#222" stroke-width="0.15">1,200</text>
<line x1="473.8" y1="321.8" x2="476.8" y2="321.8" stroke="#2b2b2b" stroke-width="1"/>
<text x="470.8" y="324.6" font-size="7.9" text-anchor="end" fill="#222" stroke="#222" stroke-width="0.15">1,500</text>
<line x1="473.8" y1="310.70000000000005" x2="476.8" y2="310.70000000000005" stroke="#2b2b2b" stroke-width="1"/>
<text x="470.8" y="313.50000000000006" font-size="7.9" text-anchor="end" fill="#222" stroke="#222" stroke-width="0.15">1,800</text>
<line x1="473.8" y1="299.6" x2="476.8" y2="299.6" stroke="#2b2b2b" stroke-width="1"/>
<text x="470.8" y="302.40000000000003" font-size="7.9" text-anchor="end" fill="#222" stroke="#222" stroke-width="0.15">2,100</text>
<line x1="473.8" y1="288.5" x2="476.8" y2="288.5" stroke="#2b2b2b" stroke-width="1"/>
<text x="470.8" y="291.3" font-size="7.9" text-anchor="end" fill="#222" stroke="#222" stroke-width="0.15">2,400</text>
<line x1="473.8" y1="277.40000000000003" x2="476.8" y2="277.40000000000003" stroke="#2b2b2b" stroke-width="1"/>
<text x="470.8" y="280.20000000000005" font-size="7.9" text-anchor="end" fill="#222" stroke="#222" stroke-width="0.15">2,700</text>
<line x1="473.8" y1="266.3" x2="476.8" y2="266.3" stroke="#2b2b2b" stroke-width="1"/>
<text x="470.8" y="269.1" font-size="7.9" text-anchor="end" fill="#222" stroke="#222" stroke-width="0.15">3,000</text>
<line x1="473.8" y1="255.20000000000002" x2="476.8" y2="255.20000000000002" stroke="#2b2b2b" stroke-width="1"/>
<text x="470.8" y="258.0" font-size="7.9" text-anchor="end" fill="#222" stroke="#222" stroke-width="0.15">3,300</text>
<line x1="474" y1="377.3" x2="513.4" y2="377.3" stroke="#2b2b2b" stroke-width="1.3"/>
<line x1="510.4" y1="377.3" x2="510.4" y2="380.3" stroke="#2b2b2b" stroke-width="1"/>
<rect x="479.6" y="285.207" width="9.3" height="92.09299999999999" fill="#c6c5ca"/>
<rect x="488.90000000000003" y="287.20500000000004" width="9.3" height="90.095" fill="#c8102e"/>
<rect x="498.20000000000005" y="291.312" width="9.3" height="85.988" fill="#3aa935"/>
<line x1="484.25" y1="285.207" x2="484.25" y2="277.511" stroke="#444" stroke-width="1"/>
<line x1="481.75" y1="277.511" x2="486.75" y2="277.511" stroke="#444" stroke-width="1"/>
<line x1="493.55" y1="287.20500000000004" x2="493.55" y2="269.482" stroke="#444" stroke-width="1"/>
<line x1="491.05" y1="269.482" x2="496.05" y2="269.482" stroke="#444" stroke-width="1"/>
<line x1="502.85" y1="291.312" x2="502.85" y2="275.51300000000003" stroke="#444" stroke-width="1"/>
<line x1="500.35" y1="275.51300000000003" x2="505.35" y2="275.51300000000003" stroke="#444" stroke-width="1"/>
<text x="495.3" y="391.7" font-size="8.5" text-anchor="middle" fill="#222" stroke="#222" stroke-width="0.15" textLength="11.2" lengthAdjust="spacingAndGlyphs">PLT</text>
<text x="446.1" y="313.5" font-size="9.6" text-anchor="middle" fill="#222" stroke="#222" stroke-width="0.35" textLength="15.3" lengthAdjust="spacingAndGlyphs" transform="rotate(-90 446.1 313.5)">K/μL</text>
<text x="6.4" y="441.7" font-size="12" text-anchor="start" fill="#000" font-weight="bold">D</text>
<line x1="51.8" y1="483" x2="51.8" y2="572.6" stroke="#2b2b2b" stroke-width="1.3"/>
<line x1="49.3" y1="572.0" x2="51.8" y2="572.0" stroke="#2b2b2b" stroke-width="1"/>
<text x="47" y="574.8" font-size="8" text-anchor="end" fill="#222" stroke="#222" stroke-width="0.15">0</text>
<line x1="49.3" y1="554.24" x2="51.8" y2="554.24" stroke="#2b2b2b" stroke-width="1"/>
<text x="47" y="557.04" font-size="8" text-anchor="end" fill="#222" stroke="#222" stroke-width="0.15">20</text>
<line x1="49.3" y1="536.48" x2="51.8" y2="536.48" stroke="#2b2b2b" stroke-width="1"/>
<text x="47" y="539.28" font-size="8" text-anchor="end" fill="#222" stroke="#222" stroke-width="0.15">40</text>
<line x1="49.3" y1="518.72" x2="51.8" y2="518.72" stroke="#2b2b2b" stroke-width="1"/>
<text x="47" y="521.52" font-size="8" text-anchor="end" fill="#222" stroke="#222" stroke-width="0.15">60</text>
<line x1="49.3" y1="500.96" x2="51.8" y2="500.96" stroke="#2b2b2b" stroke-width="1"/>
<text x="47" y="503.76" font-size="8" text-anchor="end" fill="#222" stroke="#222" stroke-width="0.15">80</text>
<line x1="49.3" y1="483.2" x2="51.8" y2="483.2" stroke="#2b2b2b" stroke-width="1"/>
<text x="47" y="486.0" font-size="8" text-anchor="end" fill="#222" stroke="#222" stroke-width="0.15">100</text>
<line x1="49.5" y1="572" x2="117" y2="572" stroke="#2b2b2b" stroke-width="1.3"/>
<line x1="64.7" y1="572" x2="64.7" y2="574.5" stroke="#2b2b2b" stroke-width="1"/>
<line x1="84.5" y1="572" x2="84.5" y2="574.5" stroke="#2b2b2b" stroke-width="1"/>
<line x1="104.3" y1="572" x2="104.3" y2="574.5" stroke="#2b2b2b" stroke-width="1"/>
<rect x="58.8" y="566.228" width="12" height="5.772" fill="#c6c5ca"/>
<rect x="78.5" y="503.624" width="12.3" height="68.376" fill="#c8102e"/>
<rect x="98.2" y="557.9696" width="12.3" height="14.0304" fill="#3aa935"/>
<line x1="64.7" y1="564.452" x2="64.7" y2="568.004" stroke="#2b2b2b" stroke-width="1"/>
<line x1="61.7" y1="564.452" x2="67.7" y2="564.452" stroke="#2b2b2b" stroke-width="1"/>
<line x1="61.7" y1="568.004" x2="67.7" y2="568.004" stroke="#2b2b2b" stroke-width="1"/>
<line x1="84.6" y1="499.18399999999997" x2="84.6" y2="508.064" stroke="#2b2b2b" stroke-width="1"/>
<line x1="81.6" y1="499.18399999999997" x2="87.6" y2="499.18399999999997" stroke="#2b2b2b" stroke-width="1"/>
<line x1="81.6" y1="508.064" x2="87.6" y2="508.064" stroke="#2b2b2b" stroke-width="1"/>
<line x1="104.3" y1="556.46" x2="104.3" y2="559.568" stroke="#2b2b2b" stroke-width="1"/>
<line x1="101.3" y1="556.46" x2="107.3" y2="556.46" stroke="#2b2b2b" stroke-width="1"/>
<line x1="101.3" y1="559.568" x2="107.3" y2="559.568" stroke="#2b2b2b" stroke-width="1"/>
<polyline points="63.4,472.0 63.4,469.5 103.5,469.5 103.5,472.0" fill="none" stroke="#2b2b2b" stroke-width="1.1"/>
<text x="83.45" y="468.8" font-size="8" text-anchor="middle" fill="#222" stroke="#222" stroke-width="0.15">*</text>
<polyline points="84.5,483.0 84.5,480.5 103.5,480.5 103.5,483.0" fill="none" stroke="#2b2b2b" stroke-width="1.1"/>
<text x="94.0" y="479.8" font-size="8" text-anchor="middle" fill="#222" stroke="#222" stroke-width="0.15">***</text>
<polyline points="64.3,495.0 64.3,492.5 84.5,492.5 84.5,495.0" fill="none" stroke="#2b2b2b" stroke-width="1.1"/>
<text x="74.4" y="491.8" font-size="8" text-anchor="middle" fill="#222" stroke="#222" stroke-width="0.15">***</text>
<text x="26.5" y="525.4" font-size="8.3" text-anchor="middle" fill="#222" stroke="#222" stroke-width="0.35" textLength="87" lengthAdjust="spacingAndGlyphs" transform="rotate(-90 26.5 525.4)">% CD11b<tspan font-size="5" dy="-3">+</tspan><tspan dy="3"> cells in Ly6G</tspan><tspan font-size="5" dy="-3">+</tspan><tspan dy="3"> cells</tspan></text>
<text x="67.5" y="581.4" font-size="7.9" text-anchor="end" fill="#222" stroke="#222" stroke-width="0.15" textLength="45.5" lengthAdjust="spacingAndGlyphs" transform="rotate(-45 67.5 581.4)">non-mobilized</text>
<text x="87.39999999999999" y="580.6" font-size="8.5" text-anchor="end" fill="#222" stroke="#222" stroke-width="0.15" textLength="63.2" lengthAdjust="spacingAndGlyphs" transform="rotate(-45 87.39999999999999 580.6)">G-CSF/AMD3100</text>
<text x="107.1" y="580.6" font-size="8.5" text-anchor="end" fill="#222" stroke="#222" stroke-width="0.15" textLength="65" lengthAdjust="spacingAndGlyphs" transform="rotate(-45 107.1 580.6)">WU106/AMD3100</text>
<text x="133.4" y="441.9" font-size="12" text-anchor="start" fill="#000" font-weight="bold">E</text>
<line x1="177.5" y1="466" x2="177.5" y2="572.6" stroke="#2b2b2b" stroke-width="1.3"/>
<line x1="175.0" y1="572.0" x2="177.5" y2="572.0" stroke="#2b2b2b" stroke-width="1"/>
<text x="171.2" y="574.8" font-size="8.6" text-anchor="end" fill="#222" stroke="#222" stroke-width="0.15">0</text>
<line x1="175.0" y1="554.9" x2="177.5" y2="554.9" stroke="#2b2b2b" stroke-width="1"/>
<text x="171.2" y="557.6999999999999" font-size="8.6" text-anchor="end" fill="#222" stroke="#222" stroke-width="0.15">20</text>
<line x1="175.0" y1="537.8" x2="177.5" y2="537.8" stroke="#2b2b2b" stroke-width="1"/>
<text x="171.2" y="540.5999999999999" font-size="8.6" text-anchor="end" fill="#222" stroke="#222" stroke-width="0.15">40</text>
<line x1="175.0" y1="520.7" x2="177.5" y2="520.7" stroke="#2b2b2b" stroke-width="1"/>
<text x="171.2" y="523.5" font-size="8.6" text-anchor="end" fill="#222" stroke="#222" stroke-width="0.15">60</text>
<line x1="175.0" y1="503.6" x2="177.5" y2="503.6" stroke="#2b2b2b" stroke-width="1"/>
<text x="171.2" y="506.40000000000003" font-size="8.6" text-anchor="end" fill="#222" stroke="#222" stroke-width="0.15">80</text>
<line x1="175.0" y1="486.5" x2="177.5" y2="486.5" stroke="#2b2b2b" stroke-width="1"/>
<text x="171.2" y="489.3" font-size="8.6" text-anchor="end" fill="#222" stroke="#222" stroke-width="0.15">100</text>
<line x1="175.0" y1="469.4" x2="177.5" y2="469.4" stroke="#2b2b2b" stroke-width="1"/>
<text x="171.2" y="472.2" font-size="8.6" text-anchor="end" fill="#222" stroke="#222" stroke-width="0.15">120</text>
<line x1="175" y1="572" x2="242.4" y2="572" stroke="#2b2b2b" stroke-width="1.3"/>
<line x1="190.4" y1="572" x2="190.4" y2="574.5" stroke="#2b2b2b" stroke-width="1"/>
<line x1="209.9" y1="572" x2="209.9" y2="574.5" stroke="#2b2b2b" stroke-width="1"/>
<line x1="228.8" y1="572" x2="228.8" y2="574.5" stroke="#2b2b2b" stroke-width="1"/>
<rect x="204" y="535.577" width="12" height="36.423" fill="#c8102e"/>
<rect x="223.7" y="569.435" width="12" height="2.565" fill="#3aa935"/>
<line x1="209.9" y1="500.351" x2="209.9" y2="536.077" stroke="#2b2b2b" stroke-width="1"/>
<line x1="206.9" y1="500.351" x2="212.9" y2="500.351" stroke="#2b2b2b" stroke-width="1"/>
<line x1="206.9" y1="536.077" x2="212.9" y2="536.077" stroke="#2b2b2b" stroke-width="1"/>
<line x1="229.5" y1="565.844" x2="229.5" y2="571.145" stroke="#2b2b2b" stroke-width="1"/>
<line x1="226.5" y1="565.844" x2="232.5" y2="565.844" stroke="#2b2b2b" stroke-width="1"/>
<line x1="226.5" y1="571.145" x2="232.5" y2="571.145" stroke="#2b2b2b" stroke-width="1"/>
<line x1="186" y1="571.5" x2="195" y2="571.5" stroke="#111" stroke-width="1.2"/>
<circle cx="209.9" cy="482.1" r="0.9" fill="#111"/>
<circle cx="209.9" cy="518.5" r="0.9" fill="#111"/>
<circle cx="208" cy="554.5" r="0.9" fill="#111"/>
<circle cx="211" cy="554.5" r="0.9" fill="#111"/>
<circle cx="209.9" cy="563" r="0.9" fill="#111"/>
<polyline points="190.5,457.0 190.5,454.5 230.3,454.5 230.3,457.0" fill="none" stroke="#2b2b2b" stroke-width="1.1"/>
<text x="210.4" y="452.3" font-size="7.5" text-anchor="middle" fill="#222" stroke="#222" stroke-width="0.15">ns</text>
<polyline points="210,466.0 210,463.5 230.3,463.5 230.3,466.0" fill="none" stroke="#2b2b2b" stroke-width="1.1"/>
<text x="220.15" y="462.8" font-size="8" text-anchor="middle" fill="#222" stroke="#222" stroke-width="0.15">***</text>
<polyline points="190.5,478.0 190.5,475.5 210,475.5 210,478.0" fill="none" stroke="#2b2b2b" stroke-width="1.1"/>
<text x="200.25" y="474.8" font-size="8" text-anchor="middle" fill="#222" stroke="#222" stroke-width="0.15">***</text>
<text x="151.9" y="519.3" font-size="9.6" text-anchor="middle" fill="#222" stroke="#222" stroke-width="0.35" textLength="37.6" lengthAdjust="spacingAndGlyphs" transform="rotate(-90 151.9 519.3)">IL-6 (pg/mL)</text>
<text x="193.20000000000002" y="581.4" font-size="7.9" text-anchor="end" fill="#222" stroke="#222" stroke-width="0.15" textLength="44.5" lengthAdjust="spacingAndGlyphs" transform="rotate(-45 193.20000000000002 581.4)">untransduced</text>
<text x="212.70000000000002" y="580.6" font-size="8.5" text-anchor="end" fill="#222" stroke="#222" stroke-width="0.15" textLength="63.2" lengthAdjust="spacingAndGlyphs" transform="rotate(-45 212.70000000000002 580.6)">G-CSF/AMD3100</text>
<text x="231.60000000000002" y="580.6" font-size="8.5" text-anchor="end" fill="#222" stroke="#222" stroke-width="0.15" textLength="67.8" lengthAdjust="spacingAndGlyphs" transform="rotate(-45 231.60000000000002 580.6)">WU-106/AMD3100</text>
<text x="258.4" y="441.3" font-size="12" text-anchor="start" fill="#000" font-weight="bold">F</text>
<line x1="302.2" y1="467" x2="302.2" y2="572.6" stroke="#2b2b2b" stroke-width="1.3"/>
<line x1="299.7" y1="572.0" x2="302.2" y2="572.0" stroke="#2b2b2b" stroke-width="1"/>
<text x="297.2" y="574.8" font-size="8.6" text-anchor="end" fill="#222" stroke="#222" stroke-width="0.15">0</text>
<line x1="299.7" y1="551.4" x2="302.2" y2="551.4" stroke="#2b2b2b" stroke-width="1"/>
<text x="297.2" y="554.1999999999999" font-size="8.6" text-anchor="end" fill="#222" stroke="#222" stroke-width="0.15">50</text>
<line x1="299.7" y1="530.8" x2="302.2" y2="530.8" stroke="#2b2b2b" stroke-width="1"/>
<text x="297.2" y="533.5999999999999" font-size="8.6" text-anchor="end" fill="#222" stroke="#222" stroke-width="0.15">100</text>
<line x1="299.7" y1="510.2" x2="302.2" y2="510.2" stroke="#2b2b2b" stroke-width="1"/>
<text x="297.2" y="513.0" font-size="8.6" text-anchor="end" fill="#222" stroke="#222" stroke-width="0.15">150</text>
<line x1="299.7" y1="489.6" x2="302.2" y2="489.6" stroke="#2b2b2b" stroke-width="1"/>
<text x="297.2" y="492.40000000000003" font-size="8.6" text-anchor="end" fill="#222" stroke="#222" stroke-width="0.15">200</text>
<line x1="299.7" y1="469.0" x2="302.2" y2="469.0" stroke="#2b2b2b" stroke-width="1"/>
<text x="297.2" y="471.8" font-size="8.6" text-anchor="end" fill="#222" stroke="#222" stroke-width="0.15">250</text>
<line x1="300" y1="572" x2="403.75" y2="572" stroke="#2b2b2b" stroke-width="1.3"/>
<line x1="329.3" y1="572" x2="329.3" y2="574.5" stroke="#2b2b2b" stroke-width="1"/>
<line x1="376.5" y1="572" x2="376.5" y2="574.5" stroke="#2b2b2b" stroke-width="1"/>
<rect x="310" y="532.2008" width="11.6" height="39.7992" fill="#c6c5ca"/>
<rect x="323.3" y="495.78" width="11.6" height="76.22" fill="#c8102e"/>
<rect x="337.1" y="530.8" width="11.6" height="41.199999999999996" fill="#3aa935"/>
<rect x="370.9" y="497.84000000000003" width="11.6" height="74.16" fill="#c8102e"/>
<rect x="384.5" y="514.32" width="11.6" height="57.68" fill="#3aa935"/>
<line x1="315.8" y1="522.148" x2="315.8" y2="539.04" stroke="#2b2b2b" stroke-width="1"/>
<line x1="312.8" y1="522.148" x2="318.8" y2="522.148" stroke="#2b2b2b" stroke-width="1"/>
<line x1="312.8" y1="539.04" x2="318.8" y2="539.04" stroke="#2b2b2b" stroke-width="1"/>
<line x1="329.1" y1="484.244" x2="329.1" y2="506.08" stroke="#2b2b2b" stroke-width="1"/>
<line x1="326.1" y1="484.244" x2="332.1" y2="484.244" stroke="#2b2b2b" stroke-width="1"/>
<line x1="326.1" y1="506.08" x2="332.1" y2="506.08" stroke="#2b2b2b" stroke-width="1"/>
<line x1="342.90000000000003" y1="526.68" x2="342.90000000000003" y2="534.096" stroke="#2b2b2b" stroke-width="1"/>
<line x1="339.90000000000003" y1="526.68" x2="345.90000000000003" y2="526.68" stroke="#2b2b2b" stroke-width="1"/>
<line x1="339.90000000000003" y1="534.096" x2="345.90000000000003" y2="534.096" stroke="#2b2b2b" stroke-width="1"/>
<line x1="376.7" y1="488.36400000000003" x2="376.7" y2="506.904" stroke="#2b2b2b" stroke-width="1"/>
<line x1="373.7" y1="488.36400000000003" x2="379.7" y2="488.36400000000003" stroke="#2b2b2b" stroke-width="1"/>
<line x1="373.7" y1="506.904" x2="379.7" y2="506.904" stroke="#2b2b2b" stroke-width="1"/>
<line x1="390.3" y1="507.31600000000003" x2="390.3" y2="519.264" stroke="#2b2b2b" stroke-width="1"/>
<line x1="387.3" y1="507.31600000000003" x2="393.3" y2="507.31600000000003" stroke="#2b2b2b" stroke-width="1"/>
<line x1="387.3" y1="519.264" x2="393.3" y2="519.264" stroke="#2b2b2b" stroke-width="1"/>
<circle cx="315.7" cy="547" r="0.9" fill="#111"/>
<circle cx="329.1" cy="485" r="0.9" fill="#111"/>
<circle cx="329.1" cy="505" r="0.9" fill="#111"/>
<circle cx="329.1" cy="509" r="0.9" fill="#111"/>
<circle cx="343" cy="531" r="0.9" fill="#111"/>
<circle cx="343" cy="534" r="0.9" fill="#111"/>
<circle cx="376.7" cy="486.5" r="0.9" fill="#111"/>
<circle cx="376.7" cy="504" r="0.9" fill="#111"/>
<circle cx="376.7" cy="508" r="0.9" fill="#111"/>
<circle cx="390.3" cy="505" r="0.9" fill="#111"/>
<circle cx="388.5" cy="517" r="0.9" fill="#111"/>
<circle cx="392" cy="517" r="0.9" fill="#111"/>
<polyline points="312.3,459.0 312.3,456.5 352.1,456.5 352.1,459.0" fill="none" stroke="#2b2b2b" stroke-width="1.1"/>
<text x="332.20000000000005" y="454.3" font-size="7.5" text-anchor="middle" fill="#222" stroke="#222" stroke-width="0.15">ns</text>
<polyline points="327.8,469.0 327.8,466.5 345,466.5 345,469.0" fill="none" stroke="#2b2b2b" stroke-width="1.1"/>
<text x="336.4" y="465.8" font-size="8" text-anchor="middle" fill="#222" stroke="#222" stroke-width="0.15">***</text>
<polyline points="313,480.0 313,477.5 331,477.5 331,480.0" fill="none" stroke="#2b2b2b" stroke-width="1.1"/>
<text x="322.0" y="476.8" font-size="8" text-anchor="middle" fill="#222" stroke="#222" stroke-width="0.15">***</text>
<polyline points="374.8,481.0 374.8,478.5 392.5,478.5 392.5,481.0" fill="none" stroke="#2b2b2b" stroke-width="1.1"/>
<text x="383.65" y="477.8" font-size="8" text-anchor="middle" fill="#222" stroke="#222" stroke-width="0.15">*</text>
<text x="329.2" y="584.5" font-size="8" text-anchor="middle" fill="#222" stroke="#222" stroke-width="0.15">0h</text>
<text x="376.5" y="584.5" font-size="8" text-anchor="middle" fill="#222" stroke="#222" stroke-width="0.15">6h</text>
<text x="277.5" y="519" font-size="8.9" text-anchor="middle" fill="#222" stroke="#222" stroke-width="0.35" textLength="45" lengthAdjust="spacingAndGlyphs" transform="rotate(-90 277.5 519)">CD62p (ng/mL)</text>
<rect x="409.2" y="505.4" width="5.6" height="5.4" fill="#c6c5ca"/>
<text x="418.8" y="510.6" font-size="7.5" text-anchor="start" fill="#222" stroke="#222" stroke-width="0.15" textLength="43" lengthAdjust="spacingAndGlyphs">non-mobilized</text>
<rect x="409.2" y="516.4" width="5.6" height="5.4" fill="#c8102e"/>
<text x="418.8" y="521.8" font-size="7.5" text-anchor="start" fill="#222" stroke="#222" stroke-width="0.15" textLength="58.2" lengthAdjust="spacingAndGlyphs">G-CSF/AMD3100</text>
<rect x="409.2" y="527.6" width="5.6" height="5.4" fill="#3aa935"/>
<text x="418.8" y="533" font-size="7.5" text-anchor="start" fill="#222" stroke="#222" stroke-width="0.15" textLength="63.9" lengthAdjust="spacingAndGlyphs">WU-106/AMD3100</text>
</svg>
</body></html>
